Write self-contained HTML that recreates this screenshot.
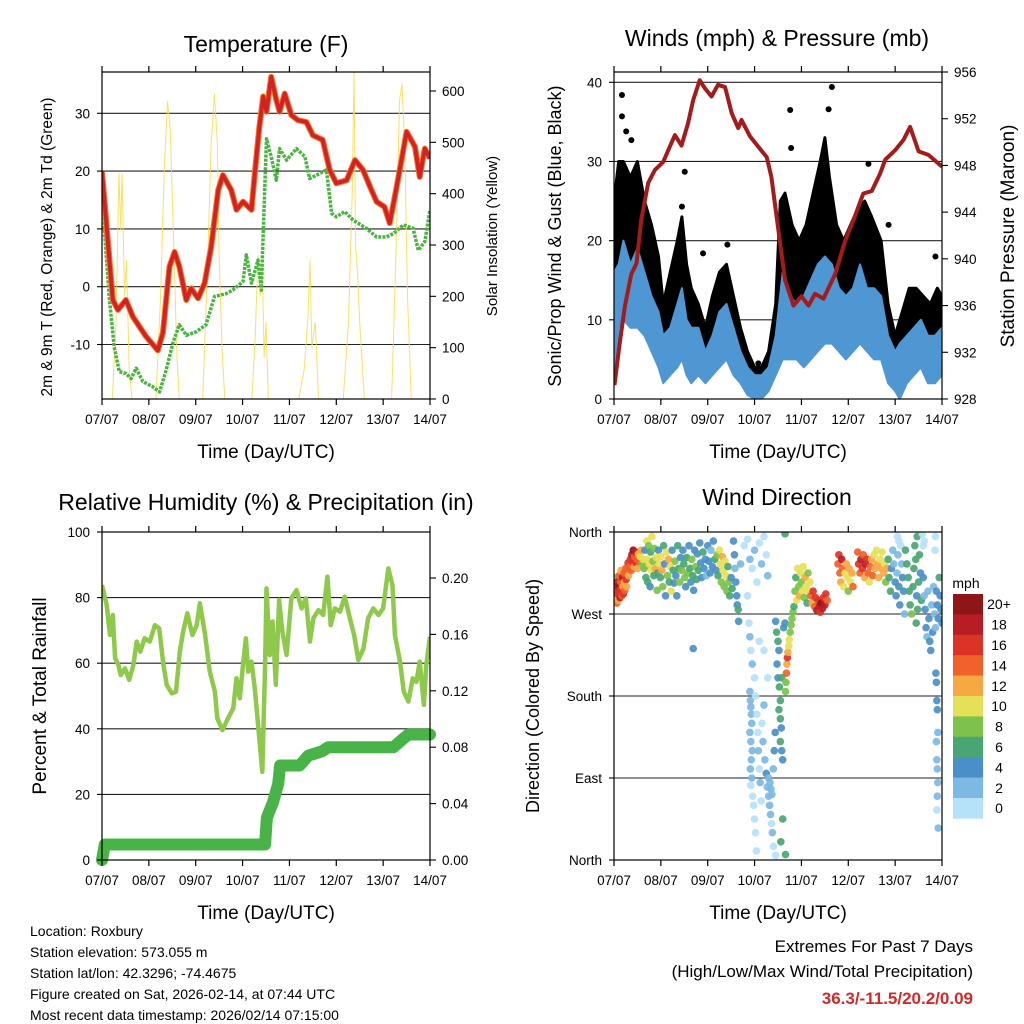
<!DOCTYPE html>
<html><head><meta charset="utf-8"><style>
html,body{margin:0;padding:0;background:#fff;}
svg{display:block;font-family:"Liberation Sans",Arial,sans-serif;}
</style></head><body>
<svg id="chart" xmlns="http://www.w3.org/2000/svg" width="1024" height="1024" viewBox="0 0 1024 1024">
<rect x="0" y="0" width="1024" height="1024" fill="#fff"/>
<text x="266" y="52" font-size="23" text-anchor="middle">Temperature (F)</text>
<text x="777" y="46" font-size="23" text-anchor="middle">Winds (mph) &amp; Pressure (mb)</text>
<text x="266" y="510" font-size="23" text-anchor="middle">Relative Humidity (%) &amp; Precipitation (in)</text>
<text x="777" y="505" font-size="23" text-anchor="middle">Wind Direction</text>
<text x="266" y="458" font-size="19" text-anchor="middle">Time (Day/UTC)</text>
<text x="778" y="458" font-size="19" text-anchor="middle">Time (Day/UTC)</text>
<text x="266" y="919" font-size="19" text-anchor="middle">Time (Day/UTC)</text>
<text x="778" y="919" font-size="19" text-anchor="middle">Time (Day/UTC)</text>
<text transform="translate(52,247) rotate(-90)" font-size="15.5" text-anchor="middle">2m &amp; 9m T (Red, Orange) &amp; 2m Td (Green)</text>
<text transform="translate(497,236) rotate(-90)" font-size="15" text-anchor="middle">Solar Insolation (Yellow)</text>
<text transform="translate(561,236) rotate(-90)" font-size="18" text-anchor="middle">Sonic/Prop Wind &amp; Gust (Blue, Black)</text>
<text transform="translate(1014,236) rotate(-90)" font-size="19" text-anchor="middle">Station Pressure (Maroon)</text>
<text transform="translate(46,696) rotate(-90)" font-size="19" text-anchor="middle">Percent &amp; Total Rainfall</text>
<text transform="translate(539,696) rotate(-90)" font-size="18" text-anchor="middle">Direction (Colored By Speed)</text>
<text x="966" y="588" font-size="14" text-anchor="middle">mph</text>
<g font-size="14">
<text x="30" y="936">Location: Roxbury</text>
<text x="30" y="957">Station elevation: 573.055 m</text>
<text x="30" y="978">Station lat/lon: 42.3296; -74.4675</text>
<text x="30" y="999">Figure created on Sat, 2026-02-14, at 07:44 UTC</text>
<text x="30" y="1020">Most recent data timestamp: 2026/02/14 07:15:00</text>
</g>
<text x="973" y="952" font-size="17" text-anchor="end">Extremes For Past 7 Days</text>
<text x="973" y="977" font-size="17" text-anchor="end">(High/Low/Max Wind/Total Precipitation)</text>
<text x="973" y="1004" font-size="17" font-weight="bold" fill="#d02a2a" text-anchor="end">36.3/-11.5/20.2/0.09</text>
</svg>
<script>
const dayLabels=["07/07","08/07","09/07","10/07","11/07","12/07","13/07","14/07"];
const tempTicks=[30,20,10,0,-10];
const solarTicks=[600,500,400,300,200,100,0];
const windTicks=[40,30,20,10,0];
const pressTicks=[956,952,948,944,940,936,932,928];
const rhTicks=[100,80,60,40,20,0];
const precipTicks=[0.20,0.16,0.12,0.08,0.04,0.00];
const dirTicks=[360,270,180,90,0];
const dirLabels=["North","West","South","East","North"];
const speedBinLabels=["0","2","4","6","8","10","12","14","16","18","20+"];

const tempT=[0,0.23,0.34,0.51,0.66,0.94,1.19,1.3,1.44,1.55,1.65,1.8,1.9,2.05,2.19,2.33,2.48,2.58,2.76,2.87,3.01,3.19,3.26,3.36,3.44,3.51,3.61,3.72,3.79,3.9,4.04,4.18,4.36,4.5,4.71,4.86,5.0,5.22,5.4,5.57,5.72,5.86,6.03,6.14,6.29,6.5,6.68,6.78,6.89,7];
const tempV=[19.9,-2.3,-4,-2.3,-5.2,-8.6,-11,-8,3.5,6,3.5,-2.3,-0.3,-2,0.6,6.9,16.7,19.3,16.7,13.3,14.7,13.3,19.6,27.7,32.9,30.3,36.3,32.3,30.3,33.4,29.7,28.8,28.5,26.2,25.4,20.2,17.9,18.4,21.9,20.2,17.3,14.7,13.8,11,17.3,26.8,24.2,19,23.9,22.2];
const dewT=[0,0.16,0.26,0.37,0.51,0.62,0.73,0.87,1.08,1.23,1.37,1.51,1.65,1.8,2.01,2.22,2.4,2.65,2.79,3.01,3.08,3.19,3.33,3.4,3.44,3.51,3.61,3.72,3.79,3.94,4.15,4.33,4.43,4.65,4.79,4.9,5.0,5.18,5.36,5.64,5.86,6.07,6.22,6.43,6.64,6.75,6.89,7];
const dewV=[15.6,-2.3,-10.4,-14.7,-15,-15.9,-14.1,-16.4,-17.3,-18.2,-14.4,-9.8,-6.6,-8.4,-7.8,-6.6,-1.7,-1.2,-0.6,0.9,5.5,0.6,4.6,-0.6,9.2,25.6,22.5,18.4,23.9,21.9,23.9,22.5,18.7,19.6,20.2,12.7,12.1,13,11.5,10.1,8.6,8.6,9.2,10.7,10.1,6.3,7.8,13.3];
const solarT=[0.22,0.3,0.36,0.4,0.43,0.48,0.52,0.58,0.64, 1.15,1.25,1.33,1.4,1.46,1.53,1.6,1.65, 2.15,2.25,2.33,2.4,2.46,2.5,2.56,2.62, 3.2,3.27,3.33,3.38,3.42,3.46,3.5,3.55, 4.2,4.32,4.4,4.44,4.48,4.55,4.62, 5.15,5.26,5.34,5.38,5.41,5.45,5.5,5.6, 6.18,6.28,6.35,6.4,6.46,6.52,6.6];
const solarV=[0,150,440,330,440,200,270,60,0, 0,200,450,580,520,300,80,0, 0,250,500,595,500,280,100,0, 0,120,280,200,260,80,150,0, 0,60,170,270,100,150,0, 0,150,400,640,300,250,150,0, 0,300,580,615,500,200,0];

const pressT=[0.01,0.12,0.23,0.37,0.48,0.58,0.73,0.87,1.05,1.19,1.3,1.44,1.58,1.69,1.83,1.94,2.08,2.22,2.37,2.51,2.65,2.72,2.9,3.08,3.26,3.36,3.5,3.65,3.83,4.0,4.15,4.29,4.47,4.72,4.93,5.11,5.32,5.5,5.68,5.79,6.0,6.18,6.32,6.5,6.71,7.0];
const pressV=[929.2,932.7,935.9,938.7,939.6,943.3,946.5,947.6,948.3,949.6,950.6,949.7,951.6,953.6,955.3,954.6,953.9,954.9,954.7,952.5,951.2,951.9,950.5,949.6,948.7,947,942.7,938.2,936,936.8,936,937,936.6,938.7,941.5,943.3,945.6,945.8,947.3,948.5,949.3,950.2,951.3,949.2,948.9,947.9];
const windT=[0,0.1,0.2,0.35,0.5,0.65,0.8,0.95,1.05,1.2,1.35,1.45,1.55,1.65,1.8,1.95,2.1,2.25,2.4,2.55,2.7,2.85,3.0,3.15,3.3,3.45,3.6,3.75,3.9,4.05,4.2,4.35,4.5,4.65,4.8,4.95,5.1,5.25,5.4,5.55,5.7,5.85,6.0,6.1,6.25,6.4,6.55,6.7,6.85,7.0];
const windLo=[3,9,10,9,9,8,6,4,2,3,4,5,3,2,3,2,3,4,5,3,2,0.5,0,0,1,3,5,5,5,4,5,6,7,7,6,5,6,7,6,5,5,2,1,0,2,3,4,2,2,3];
const windHi=[16,17,20,17,19,16,13,11,8,9,12,14,10,9,9,6,8,11,12,9,6,4,3,3,4,8,16,13,12,13,15,17,18,17,14,13,14,17,14,14,13,8,6,7,8,9,10,8,8,9];
const gustT=[0,0.1,0.2,0.35,0.5,0.65,0.8,0.95,1.05,1.2,1.35,1.45,1.55,1.65,1.8,1.95,2.1,2.25,2.4,2.55,2.7,2.85,3.0,3.15,3.3,3.45,3.55,3.65,3.8,3.95,4.1,4.25,4.4,4.5,4.6,4.75,4.9,5.05,5.2,5.35,5.5,5.7,5.85,6.0,6.15,6.3,6.45,6.6,6.75,6.9,7.0];
const gustLo=[10,12,14,15,14,12,9,7,5,6,8,9,6,5,4,3,5,7,8,5,3,1,1,1,2,5,9,10,8,7,8,10,12,12,10,9,8,9,11,10,9,8,4,2,3,4,5,4,4,5,6];
const gustHi=[25,30,30,28,30,25,22,18,12,16,20,23,17,14,12,9,13,16,17,13,9,6,4,4,6,12,25,26,22,20,22,26,30,33,28,22,20,22,24,25,23,20,12,8,11,14,14,13,12,14,13];
const gustOutT=[0.17,0.17,0.26,0.37,1.51,1.45,1.9,2.42,3.76,3.78,4.65,4.58,5.43,5.86,6.86,3.08];
const gustOutV=[38.4,35.7,33.8,32.7,28.7,24.3,18.4,19.5,36.5,31.7,39.4,36.6,29.7,22,18,4.5];

const rhT=[0,0.1,0.17,0.23,0.28,0.35,0.4,0.49,0.58,0.67,0.74,0.82,0.91,1.02,1.13,1.22,1.31,1.38,1.49,1.58,1.66,1.73,1.82,1.93,2.02,2.09,2.2,2.3,2.41,2.46,2.57,2.69,2.8,2.87,2.94,3.01,3.07,3.12,3.19,3.26,3.35,3.42,3.48,3.51,3.58,3.64,3.71,3.78,3.85,3.94,4.04,4.15,4.26,4.35,4.44,4.51,4.62,4.72,4.81,4.88,4.97,5.08,5.18,5.29,5.38,5.47,5.58,5.68,5.79,5.9,6.0,6.11,6.2,6.25,6.36,6.44,6.54,6.63,6.71,6.78,6.87,6.92,7.0];
const rhV=[83.8,77.7,68.6,74.7,61.5,59.5,56.4,58.4,54.9,59.5,66.6,63.5,67.6,66.6,71.6,70.6,59.5,53.4,50.8,51.3,63.5,69.6,75.2,68.6,71.6,78.3,68.6,57.4,51.3,43.2,39.6,43.2,46.2,55.4,49.3,59.5,67.6,57.4,60.5,52.3,38.1,26.9,59.5,82.8,62.5,72.7,53.4,79.3,69.6,62.5,79.8,82.3,76.7,79.8,66.6,73.7,76.2,74.7,86.4,71.6,76.7,75.7,80.3,73.7,68.6,61,64.5,73.7,76.7,74.7,76.7,88.9,83.8,68.6,60.5,51.3,48.3,55.4,54.3,60.5,47.3,59.5,68.1];
const rainT=[0,0.06,3.48,3.5,3.52,3.65,3.76,3.8,4.22,4.4,4.69,4.83,6.22,6.43,6.54,7.0];
const rainV=[0,0.011,0.011,0.021,0.03,0.041,0.054,0.067,0.067,0.074,0.077,0.080,0.080,0.086,0.089,0.089];

const windDirObs=[
[0.02,300,14],[0.03,288,12],[0.04,310,8],[0.05,295,16],[0.06,282,14],[0.07,305,18],[0.08,292,16],[0.09,285,12],[0.1,300,20],[0.11,312,14],[0.12,296,16],[0.13,288,18],[0.14,305,14],[0.15,318,12],[0.16,298,16],[0.17,290,14],[0.18,310,18],[0.19,300,12],[0.2,292,16],[0.21,315,14],[0.22,305,12],[0.23,296,14],[0.25,320,14],[0.26,308,16],[0.27,300,12],[0.29,318,14],[0.3,326,16],[0.31,312,12],
[0.33,322,14],[0.35,330,16],[0.37,318,14],[0.38,335,18],[0.4,327,16],[0.41,340,20],[0.43,322,12],[0.44,333,14],[0.46,338,18],[0.47,326,16],[0.49,330,14],[0.5,320,12],[0.52,336,12],[0.54,328,14],[0.56,333,10],[0.58,340,12],[0.6,325,8],[0.62,330,10],[0.64,320,8],
[0.66,340,4],[0.67,322,8],[0.68,310,6],[0.7,350,10],[0.71,330,10],[0.72,305,6],[0.74,345,8],[0.75,325,10],[0.77,300,4],[0.78,338,6],[0.8,318,10],[0.81,355,10],[0.83,328,8],[0.85,312,6],[0.86,342,8],[0.88,320,12],[0.9,332,10],[0.92,296,8],[0.93,315,6],[0.95,340,4],[0.97,325,10],[0.99,310,6],
[1.0,333,10],[1.02,318,12],[1.04,300,8],[1.06,345,6],[1.08,325,4],[1.1,290,4],[1.12,338,10],[1.14,312,8],[1.16,330,12],[1.18,305,6],[1.2,322,10],[1.22,295,10],[1.24,340,4],[1.26,318,6],[1.28,304,4],[1.3,328,8],[1.32,312,4],[1.34,290,4],[1.36,345,6],[1.38,320,6],[1.4,305,8],[1.42,332,4],[1.44,318,8],[1.69,232,4],
[1.47,340,4],[1.49,325,6],[1.51,310,8],[1.53,300,4],[1.55,332,6],[1.57,315,8],[1.6,345,4],[1.62,320,6],[1.64,305,4],[1.66,330,8],[1.68,312,6],[1.7,296,4],[1.72,340,4],[1.74,322,8],[1.76,308,6],[1.78,336,4],[1.8,318,6],[1.83,348,4],[1.85,326,4],[1.87,310,4],[1.9,338,6],[1.92,320,4],[1.95,330,4],[1.97,312,2],
[2.0,345,4],[2.02,328,4],[2.05,315,4],[2.07,340,2],[2.1,322,4],[2.12,350,4],[2.15,330,6],[2.18,318,4],[2.2,335,8],[2.22,312,6],[2.25,340,10],[2.27,325,10],[2.29,305,8],[2.31,333,12],[2.33,318,10],[2.35,300,8],[2.37,328,10],[2.39,312,10],[2.41,295,8],[2.43,322,6],[2.45,305,8],[2.47,290,6],[2.5,310,4],[2.52,298,6],
[2.55,350,4],[2.57,335,4],[2.58,320,2],[2.6,305,4],[2.62,290,4],[2.63,280,4],[2.65,275,6],[2.66,262,4],[2.7,325,2],
[2.78,345,0],[2.85,352,0],[2.9,330,2],[2.95,320,0],[3.0,340,2],[3.05,305,0],[3.1,348,0],[3.15,325,2],[3.2,355,0],[3.25,335,0],[3.28,312,2],
[2.85,290,0],[2.88,260,0],[2.9,245,2],[2.92,230,0],[2.95,215,2],[2.9,185,2],[2.91,175,2],[2.92,168,2],[2.93,160,2],[2.94,150,2],[2.9,140,2],[2.92,130,2],[2.95,120,2],[2.93,110,2],[2.91,100,2],[2.94,90,2],[2.92,82,0],[2.96,70,0],[2.98,60,0],[3.0,45,0],[3.02,30,0],[3.04,10,0],[3.0,200,0],[3.02,180,0],[3.05,160,0],[3.07,140,0],[3.08,120,2],[3.1,100,0],[3.12,85,2],[3.14,65,0],[3.16,150,0],[3.18,130,2],[3.2,170,2],[3.22,110,2],[3.25,95,4],[3.27,80,2],[3.3,70,2],[3.32,60,2],[3.34,50,2],[3.36,40,0],[3.38,30,2],[3.4,15,0],[3.45,5,0],[3.3,90,2],[3.33,85,2],[3.35,78,2],[3.37,72,2],[3.4,100,2],[3.42,120,4],[3.44,140,4],[3.28,200,0],[3.2,230,0],[3.1,240,0],
[3.45,262,4],[3.47,250,6],[3.5,240,6],[3.52,230,4],[3.48,215,4],[3.5,200,4],[3.53,190,6],[3.55,175,6],[3.52,165,6],[3.55,155,6],[3.57,145,4],[3.55,130,6],[3.58,120,4],[3.6,110,4],[3.58,200,6],[3.62,255,4],[3.65,260,4],[3.6,45,6],[3.56,20,6],[3.65,358,6],[3.66,6,6],
[3.66,185,8],[3.67,195,8],[3.68,205,14],[3.69,215,12],[3.7,222,16],[3.71,228,12],[3.73,235,10],[3.74,242,10],[3.76,250,8],[3.78,258,8],[3.8,265,8],[3.82,272,8],[3.84,278,6],
[3.86,295,8],[3.88,310,6],[3.9,285,10],[3.92,320,10],[3.94,300,8],[3.96,290,12],[3.98,315,10],[4.0,305,8],[4.02,295,10],[4.04,322,10],[4.06,288,8],[4.08,310,12],[4.1,300,10],[4.12,282,6],[4.14,315,8],[4.16,295,10],[4.18,305,10],
[4.2,290,14],[4.23,282,12],[4.25,295,16],[4.28,278,14],[4.3,288,16],[4.33,274,18],[4.36,285,16],[4.38,278,18],[4.4,272,16],[4.42,282,20],[4.45,276,18],[4.47,288,16],[4.5,280,18],[4.52,292,16],[4.55,285,14],
[4.78,325,14],[4.8,335,16],[4.82,315,14],[4.84,305,12],[4.86,330,18],[4.88,320,14],[4.9,300,10],[4.93,315,10],[4.96,325,12],[4.98,310,10],[5.0,295,8],[5.02,320,12],[5.05,305,10],[5.08,315,12],[5.1,300,14],
[5.2,338,14],[5.22,325,16],[5.25,315,14],[5.27,330,18],[5.3,320,16],[5.32,335,14],[5.35,310,12],[5.37,325,18],[5.4,330,16],[5.42,315,14],[5.45,305,10],[5.47,322,14],[5.5,330,12],[5.52,312,14],[5.55,335,10],[5.57,320,12],[5.6,340,10],[5.62,325,12],[5.65,310,12],[5.68,330,10],[5.7,320,12],[5.72,338,10],[5.75,315,12],[5.78,325,10],[5.8,305,8],[5.83,320,12],
[5.85,330,6],[5.87,310,6],[5.9,295,6],[5.92,320,4],[5.95,340,2],[5.97,325,2],[6.0,305,4],[6.02,290,4],[6.04,315,2],[6.06,335,2],[6.08,300,4],[6.1,280,4],[6.12,345,0],[6.14,325,2],[6.16,310,4],[6.18,295,4],[6.2,270,2],[6.05,355,0],[6.08,350,0],
[6.22,340,6],[6.25,325,6],[6.28,310,6],[6.3,295,6],[6.32,280,6],[6.35,270,8],[6.38,300,6],[6.4,320,6],[6.42,345,6],[6.44,330,6],[6.46,290,4],[6.48,275,6],[6.5,305,6],[6.52,335,6],[6.54,315,4],[6.56,285,6],[6.45,260,6],[6.47,355,6],
[6.6,310,4],[6.62,290,2],[6.64,275,4],[6.66,255,4],[6.68,245,2],[6.7,295,2],[6.72,265,4],[6.74,240,4],[6.76,230,4],[6.78,280,2],[6.8,250,4],[6.82,300,2],[6.84,270,2],[6.86,255,2],[6.88,295,4],[6.9,280,4],[6.92,265,4],[6.94,310,6],[6.96,290,4],[6.98,275,4],[7.0,260,4],[6.87,205,4],[6.88,195,4],[6.89,175,4],[6.9,165,4],[6.91,140,2],[6.88,130,2],[6.89,110,2],[6.9,100,2],[6.91,85,2],[6.9,70,2],[6.89,55,0],[6.92,35,2],[6.85,340,0],[6.86,355,0],[6.6,345,0],[6.62,350,0],[6.58,358,0]
];

const speedColors=["#b5e2f8","#7cb9e3","#4a8fc7","#49a672","#7cc24b","#e6e058","#f6a843","#f0612b","#dc3327","#b81c24","#8e1518"];

const NS="http://www.w3.org/2000/svg";
const svg=document.getElementById('chart');
function mk(tag,attrs,parent){const e=document.createElementNS(NS,tag);for(const k in attrs)e.setAttribute(k,attrs[k]);(parent||svg).appendChild(e);return e;}

const P1={x0:102,x1:430,y0:72,y1:399};
const P2={x0:614,x1:942,y0:72,y1:399};
const P3={x0:102,x1:430,y0:532,y1:860};
const P4={x0:614,x1:942,y0:532,y1:860};
function xs(P,t){return P.x0+t/7*(P.x1-P.x0);}
function lin(v0,p0,v1,p1){return v=>p0+(v-v0)/(v1-v0)*(p1-p0);}
const yTemp=lin(0,286.7,30,113.3);
const ySolar=lin(0,399,600,91);
const yWind=lin(0,399,40,82.3);
const yPress=lin(928,399,956,72);
const yRH=lin(0,860,100,532);
const yRain=lin(0,860,0.2,578);
const yDir=lin(0,860,360,532);

function pts(P,T,V,fy){return T.map((t,i)=>xs(P,t).toFixed(1)+","+fy(V[i]).toFixed(1)).join(" ");}

function gridAndFrame(P,ticks,fy,name){
  const g=mk('g',{});
  
  
  ticks.forEach(v=>{const y=fy(v);if(y>P.y0+1&&y<P.y1-1){const l=mk('line',{x1:P.x0,x2:P.x1,y1:y,y2:y,stroke:'#222','stroke-width':1.1},g);
    
    }});
}
function frame(P,name){
  const r=mk('rect',{x:P.x0,y:P.y0,width:P.x1-P.x0,height:P.y1-P.y0,fill:'none',stroke:'#000','stroke-width':1.2});
  
  
  for(let d=0;d<=7;d++){const x=xs(P,d);
    const a=mk('line',{x1:x,x2:x,y1:P.y1,y2:P.y1+6,stroke:'#000','stroke-width':1.2});
    
    
    const b=mk('line',{x1:x,x2:x,y1:P.y0,y2:P.y0-6,stroke:'#000','stroke-width':1.2});
    
    
    const t=mk('text',{x:x,y:P.y1+25,'font-size':13.5,'text-anchor':'middle'});
    t.textContent=dayLabels[d];
    
    
  }
}
function yLabels(P,ticks,fy,side,name,fmt,labels){
  ticks.forEach((v,i)=>{const y=fy(v);
    const x=side==='left'?P.x0-12:P.x1+12;
    const tk=mk('line',{x1:side==='left'?P.x0-5:P.x1,x2:side==='left'?P.x0:P.x1+6,y1:y,y2:y,stroke:'#000','stroke-width':1.1});
    
    
    const t=mk('text',{x:x,y:y+5,'font-size':13.5,'text-anchor':side==='left'?'end':'start'});
    t.textContent=labels?labels[i]:(fmt?fmt(v):String(v));
    
    
  });
}

const defs=mk('defs',{});
[['c1',P1],['c2',P2],['c3',P3],['c4',P4]].forEach(([id,P])=>{const cp=mk('clipPath',{id:id},defs);mk('rect',{x:P.x0,y:P.y0,width:P.x1-P.x0,height:P.y1-P.y0},cp);});

// ===== Panel 1 Temperature
gridAndFrame(P1,tempTicks,yTemp,'temperature');
const g1=mk('g',{'clip-path':'url(#c1)'});


const solar=mk('polyline',{points:pts(P1,solarT,solarV,ySolar),fill:'none',stroke:'#f7dc4a','stroke-width':1,'stroke-opacity':0.85},g1);


const dew=mk('polyline',{points:pts(P1,dewT,dewV,yTemp),fill:'none',stroke:'#4ab440','stroke-width':3.5,'stroke-dasharray':'3 1.2','stroke-linejoin':'round'},g1);


const t9=mk('polyline',{points:pts(P1,tempT,tempV,yTemp),fill:'none',stroke:'#f07b2a','stroke-width':6,'stroke-linejoin':'round'},g1);


const t2=mk('polyline',{points:pts(P1,tempT,tempV,yTemp),fill:'none',stroke:'#d42222','stroke-width':4,'stroke-linejoin':'round'},g1);


frame(P1,'temperature');
yLabels(P1,tempTicks,yTemp,'left','temperature-y');
yLabels(P1,solarTicks,ySolar,'right','solar-y');

// ===== Panel 2 Winds
gridAndFrame(P2,windTicks,yWind,'winds');
const g2=mk('g',{'clip-path':'url(#c2)'});


function band(P,T,lo,hi,fy){return T.map((t,i)=>xs(P,t).toFixed(1)+","+fy(hi[i]).toFixed(1)).concat(T.map((t,i)=>xs(P,t).toFixed(1)+","+fy(lo[i]).toFixed(1)).reverse()).join(" ");}
const gb=mk('polygon',{points:band(P2,gustT,gustLo,gustHi,yWind),fill:'#000',stroke:'#000','stroke-width':3,'stroke-linejoin':'round'},g2);


gustOutT.forEach((t,i)=>{const c=mk('circle',{cx:xs(P2,t),cy:yWind(gustOutV[i]),r:3,fill:'#000'},g2);
  
  });
const wb=mk('polygon',{points:band(P2,windT,windLo,windHi,yWind),fill:'#4f97d2',stroke:'#4f97d2','stroke-width':2,'stroke-linejoin':'round'},g2);


const pl=mk('polyline',{points:pts(P2,pressT,pressV,yPress),fill:'none',stroke:'#a31c1c','stroke-width':4,'stroke-linejoin':'round'},g2);


frame(P2,'winds');
yLabels(P2,windTicks,yWind,'left','winds-y');
yLabels(P2,pressTicks,yPress,'right','pressure-y');

// ===== Panel 3 RH
gridAndFrame(P3,rhTicks,yRH,'humidity');
const g3=mk('g',{'clip-path':'url(#c3)'});


const rl=mk('polyline',{points:pts(P3,rhT,rhV,yRH),fill:'none',stroke:'#8fc94c','stroke-width':4.5,'stroke-linejoin':'round'},g3);


const pr=mk('polyline',{points:pts(P3,rainT,rainV,yRain),fill:'none',stroke:'#48b448','stroke-width':12,'stroke-linejoin':'round','stroke-linecap':'round'},svg);


frame(P3,'humidity');
yLabels(P3,rhTicks,yRH,'left','humidity-y');
yLabels(P3,precipTicks,yRain,'right','precip-y',v=>v.toFixed(2));

// ===== Panel 4 Wind direction
gridAndFrame(P4,dirTicks,yDir,'direction');
const g4=mk('g',{'clip-path':'url(#c4)'});


windDirObs.forEach(o=>{const idx=Math.max(0,Math.min(10,Math.round(o[2]/2)));
  const c=mk('circle',{cx:xs(P4,o[0]),cy:yDir(o[1]),r:3.8,fill:speedColors[idx],'fill-opacity':0.92},g4);
  
  });
frame(P4,'direction');
yLabels(P4,dirTicks,yDir,'left','direction-y',null,dirLabels);
const cbTop=594,cbH=20.4;
for(let i=0;i<11;i++){const k=10-i;const y=cbTop+i*cbH;
  const r=mk('rect',{x:953,y:y,width:30,height:cbH+0.3,fill:speedColors[k]});
  
  
  const t=mk('text',{x:999,y:y+cbH/2+5,'font-size':14,'text-anchor':'middle'});
  t.textContent=speedBinLabels[k];
  
  
}
</script>
</body></html>
